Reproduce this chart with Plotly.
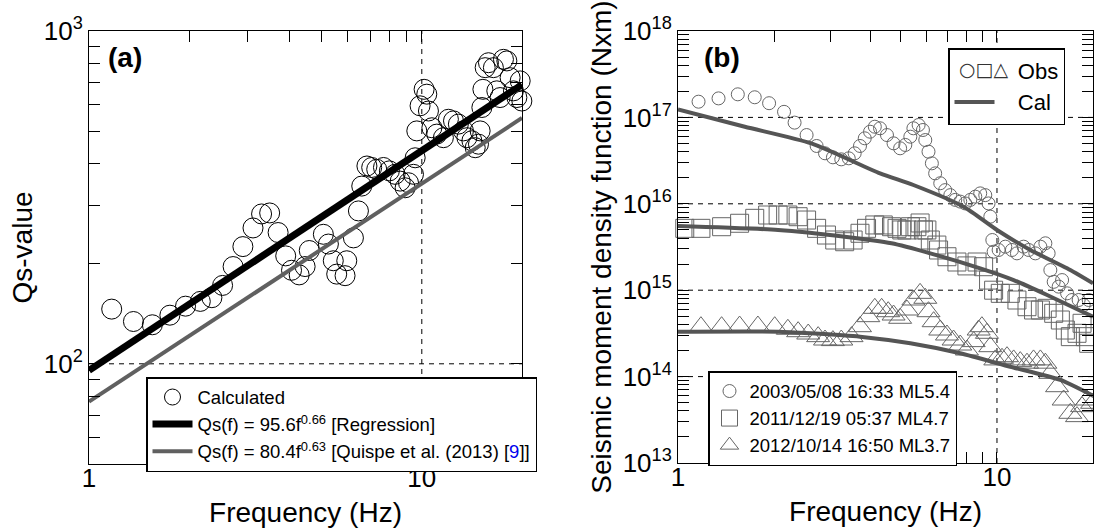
import plotly.graph_objects as go

# ---------------- Panel (a) data ----------------
qs_freq = [1.17, 1.36, 1.55, 1.75, 1.95, 2.16, 2.34, 2.52, 2.71, 2.90, 3.11, 3.30, 3.49, 3.70,
           3.90, 4.06, 4.28, 4.46, 4.59, 5.06, 5.24, 5.42, 5.55, 5.88, 5.95, 6.23, 6.45, 6.60,
           6.84, 7.07, 7.32, 7.67, 7.99, 8.31, 8.61, 8.91, 9.12, 9.44, 9.55, 9.66, 9.88, 10.16,
           10.35, 10.47, 10.72, 11.09, 11.61, 12.02, 12.45, 12.88, 13.34, 13.66, 14.14, 14.47,
           14.80, 14.97, 15.15, 15.26, 15.50, 15.86, 16.41, 16.80, 17.19, 17.59, 18.01, 18.42,
           18.85, 19.30, 19.75, 19.98]
qs_val = [146, 134, 131, 140, 149, 154, 158, 172, 196, 225, 256, 282, 284, 248,
          211, 191, 185, 196, 219, 245, 229, 204, 186, 184, 204, 239, 288, 342,
          393, 389, 384, 389, 380, 371, 354, 338, 350, 371, 416, 501, 596, 668,
          646, 575, 512, 490, 478, 543, 537, 525, 501, 478, 468, 446,
          457, 501, 589, 668, 776, 803, 776, 661, 631, 822, 813, 724,
          661, 631, 708, 616]

reg_freq = [1, 20]
reg_val = [95.6, 690]
quispe_freq = [1, 20]
quispe_val = [77, 548]

# ---------------- Panel (b) data ----------------
c_freq = [1.16, 1.34, 1.54, 1.74, 1.93, 2.15, 2.32, 2.53, 2.72, 2.89, 3.06, 3.25, 3.43, 3.58,
          3.72, 3.85, 4.00, 4.14, 4.30, 4.52, 4.74, 4.97, 5.16, 5.35, 5.47, 5.68, 5.86, 5.96,
          6.10, 6.25, 6.40, 6.64, 6.88, 7.14, 7.40, 7.67, 7.95, 8.25, 8.55, 8.86, 9.19, 9.41,
          9.53, 9.67, 9.76, 10.12, 10.62, 11.14, 11.55, 12.12, 12.57, 13.19, 13.68, 14.18,
          14.52, 14.70, 15.06, 15.61, 16.0, 16.59, 17.19, 18.03, 18.70, 19.39]
c_val = [1.52e17, 1.66e17, 1.85e17, 1.71e17, 1.46e17, 1.16e17, 8.7e16, 6.25e16, 4.67e16, 3.84e16,
         3.45e16, 3.27e16, 3.36e16, 3.84e16, 4.67e16, 5.73e16, 6.83e16, 7.8e16, 7.48e16, 6.25e16,
         5.01e16, 4.39e16, 4.80e16, 5.98e16, 7.48e16, 8.17e16, 7.15e16, 5.47e16, 4.01e16, 2.94e16,
         2.25e16, 1.73e16, 1.44e16, 1.26e16, 1.11e16, 1.06e16, 1.01e16, 1.11e16, 1.21e16, 1.32e16,
         1.26e16, 1.01e16, 7.1e15, 3.81e15, 2.79e15, 2.92e15, 3.19e15, 2.92e15, 2.67e15, 3.19e15,
         2.92e15, 2.67e15, 3.19e15, 3.49e15, 2.67e15, 1.71e15, 1.25e15, 1.10e15, 1.31e15, 9.2e14,
         7.7e14, 7.7e14, 6.74e14, 7.7e14]

s_freq = [1.05, 1.18, 1.37, 1.56, 1.74, 1.91, 2.06, 2.21, 2.38, 2.53, 2.72, 2.92, 3.10, 3.33,
          3.54, 3.72, 3.90, 4.14, 4.40, 4.67, 4.86, 5.03, 5.22, 5.35, 5.61, 5.74, 5.88, 6.03,
          6.18, 6.48, 6.56, 6.97, 7.49, 8.05, 8.66, 9.08, 9.41, 9.76, 10.24, 11.01, 11.55, 12.42,
          13.02, 13.68, 14.36, 15.06, 15.80, 16.38, 16.98, 17.82, 18.48, 18.93, 19.39]
s_val = [5.2e15, 5.2e15, 5.43e15, 5.95e15, 6.79e15, 7.42e15, 7.42e15, 7.42e15, 7.09e15, 6.49e15,
         5.2e15, 4.35e15, 3.81e15, 3.64e15, 3.81e15, 4.56e15, 5.2e15, 5.69e15, 5.69e15, 5.43e15,
         5.2e15, 4.98e15, 4.98e15, 5.43e15, 5.43e15, 6.0e15, 4.98e15, 4.98e15, 3.81e15, 3.33e15,
         2.92e15, 2.44e15, 2.12e15, 1.91e15, 2.12e15, 1.87e15, 1.31e15, 1.0e15, 9.2e14, 9.2e14,
         7.7e14, 6.44e14, 5.9e14, 5.9e14, 6.17e14, 5.4e14, 4.52e14, 3.46e14, 2.9e14, 3.17e14,
         4.14e14, 2.9e14, 2.43e14]

t_freq = [1.18, 1.37, 1.56, 1.78, 2.01, 2.21, 2.38, 2.56, 2.75, 2.89, 3.06, 3.25, 3.50, 3.72,
          3.95, 4.14, 4.35, 4.56, 4.74, 4.97, 5.22, 5.47, 5.74, 5.96, 6.10, 6.33, 6.64, 6.97,
          7.31, 7.67, 8.05, 8.45, 8.76, 8.97, 9.30, 9.53, 9.88, 10.37, 10.75, 11.28, 11.83,
          12.42, 13.02, 13.68, 14.18, 14.70, 15.43, 16.18, 16.98, 17.82, 18.48, 19.16, 19.87]
t_val = [3.78e14, 3.78e14, 3.85e14, 3.85e14, 3.78e14, 3.53e14, 3.31e14, 3.11e14, 2.9e14, 2.65e14,
         2.61e14, 2.65e14, 2.9e14, 3.78e14, 4.94e14, 6.17e14, 6.17e14, 5.64e14, 5.16e14, 4.73e14,
         5.9e14, 7.7e14, 9.2e14, 8.06e14, 5.64e14, 4.32e14, 3.46e14, 3.03e14, 2.65e14, 2.32e14,
         2.03e14, 2.54e14, 3.46e14, 3.78e14, 3.17e14, 2.22e14, 1.56e14, 1.63e14, 1.70e14, 1.56e14,
         1.49e14, 1.43e14, 1.56e14, 1.56e14, 1.43e14, 1.09e14, 7.64e13, 5.36e13, 3.76e13, 3.44e13,
         4.49e13, 5.36e13, 4.91e13]

cal_c_freq = [1.0, 1.62, 2.62, 4.30, 5.47, 7.86, 10.0, 12.72, 16.59, 20.0]
cal_c_val = [1.24e17, 7.8e16, 5.0e16, 2.25e16, 1.65e16, 9.25e15, 4.98e15, 2.92e15, 1.79e15, 1.2e15]
cal_s_freq = [1.0, 2.06, 3.33, 4.67, 6.18, 8.86, 11.28, 14.36, 20.0]
cal_s_val = [5.53e15, 4.98e15, 4.16e15, 3.49e15, 2.67e15, 1.79e15, 1.31e15, 8.8e14, 4.93e14]
cal_t_freq = [1.0, 2.06, 2.6, 3.72, 5.35, 7.67, 11.01, 15.80, 20.0]
cal_t_val = [3.31e14, 3.31e14, 3.17e14, 2.9e14, 2.43e14, 1.86e14, 1.30e14, 9.14e13, 6.0e13]

event_labels = ["2003/05/08 16:33 ML5.4", "2011/12/19 05:37 ML4.7", "2012/10/14 16:50 ML3.7"]

# axis ranges and ticks
f_range = [1, 20]
qa_range = [50, 1000]
mb_range = [1e13, 1e18]
x_major = [1, 10]
x_minor = [2, 3, 4, 5, 6, 7, 8, 9, 20]
ya_major = [100, 1000]
ya_minor = [60, 70, 80, 90, 200, 300, 400, 500, 600, 700, 800, 900]
yb_major = [1e13, 1e14, 1e15, 1e16, 1e17, 1e18]
yb_minor = [m * 10 ** e for e in range(13, 18) for m in range(2, 10)]
x_tickvals = x_major + x_minor
x_ticktext = ["1", "10"] + [""] * len(x_minor)
ya_tickvals = ya_major + ya_minor
ya_ticktext = ["10<sup>2</sup>", "10<sup>3</sup>"] + [""] * len(ya_minor)
yb_tickvals = yb_major + yb_minor
yb_ticktext = ["10<sup>%d</sup>" % e for e in range(13, 19)] + [""] * len(yb_minor)
a_grid_x = [10]
a_grid_y = [100]
b_grid_x = [10]
b_grid_y = [1e14, 1e15, 1e16, 1e17]

FONT = "Liberation Sans, Arial, sans-serif"
GRAY = "#666666"
CAL = "#555555"
NB = "&nbsp;"
GRIDLINE = dict(color="black", width=1, dash="5px,5px")

fig = go.Figure()

# dashed reference grid lines (drawn beneath the data)
for xa, ya, gx, gy, yr in [("x", "y", a_grid_x, a_grid_y, qa_range), ("x2", "y2", b_grid_x, b_grid_y, mb_range)]:
    for v in gx:
        fig.add_trace(go.Scatter(x=[v, v], y=yr, mode="lines", line=GRIDLINE, showlegend=False,
                                 hoverinfo="skip", xaxis=xa, yaxis=ya))
    for v in gy:
        fig.add_trace(go.Scatter(x=f_range, y=[v, v], mode="lines", line=GRIDLINE, showlegend=False,
                                 hoverinfo="skip", xaxis=xa, yaxis=ya))

# Panel (a)
fig.add_trace(go.Scatter(x=qs_freq, y=qs_val, mode="markers", name="Calculated",
                         marker=dict(symbol="circle-open", size=20, color="black",
                                     line=dict(width=1, color="black")),
                         cliponaxis=False, xaxis="x", yaxis="y", legend="legend"))
fig.add_trace(go.Scatter(x=reg_freq, y=reg_val, mode="lines",
                         name="Qs(f) = 95.6f<sup>0.66</sup> [Regression]",
                         line=dict(color="black", width=7), xaxis="x", yaxis="y", legend="legend"))
fig.add_trace(go.Scatter(x=quispe_freq, y=quispe_val, mode="lines",
                         name='Qs(f) = 80.4f<sup>0.63</sup> [Quispe et al. (2013) [<span style="color:#0000ee">9</span>]]',
                         line=dict(color="#606060", width=4), xaxis="x", yaxis="y", legend="legend"))

# Panel (b)
fig.add_trace(go.Scatter(x=[None], y=[None], mode="lines", name=NB * 3 + "Obs",
                         line=dict(color="rgba(0,0,0,0)", width=1),
                         xaxis="x2", yaxis="y2", legend="legend2"))
sym = ["circle-open", "square-open", "triangle-up-open"]
sizes = [13, 18, 20]
for (fx, fy, s, sz, lab) in zip([c_freq, s_freq, t_freq], [c_val, s_val, t_val], sym, sizes, event_labels):
    fig.add_trace(go.Scatter(x=fx, y=fy, mode="markers", name=lab,
                             marker=dict(symbol=s, size=sz, color=GRAY, line=dict(width=1, color=GRAY)),
                             cliponaxis=False, xaxis="x2", yaxis="y2", legend="legend3"))
for i, (fx, fy) in enumerate([(cal_c_freq, cal_c_val), (cal_s_freq, cal_s_val), (cal_t_freq, cal_t_val)]):
    fig.add_trace(go.Scatter(x=fx, y=fy, mode="lines", name=NB * 3 + "Cal", showlegend=(i == 0),
                             line=dict(color=CAL, width=4, shape="spline", smoothing=0.6),
                             xaxis="x2", yaxis="y2", legend="legend2"))

W, H = 1094, 529
def px_x(v):
    return v / W
def px_y(v):
    return 1 - v / H

XR = [0, 1.30103]
TICK = dict(ticks="inside", ticklen=11, tickcolor="black")
LINE = dict(showline=True, linecolor="black", mirror="ticks", zeroline=False, showgrid=False,
            automargin=False)
TF = dict(size=26, color="black", family=FONT)
TT = dict(size=28, color="black", family=FONT)

def main_x(domain, anchor):
    return dict(type="log", range=XR, domain=domain, anchor=anchor, tickmode="array",
                tickvals=x_tickvals, ticktext=x_ticktext, tickfont=TF, ticklabelstandoff=-9,
                title=dict(text="Frequency (Hz)", font=TT, standoff=10), **TICK, **LINE)

fig.update_layout(
    width=W, height=H, margin=dict(l=0, r=0, t=0, b=0),
    paper_bgcolor="white", plot_bgcolor="white",
    font=dict(family=FONT, color="black"),
    xaxis=main_x([px_x(89), px_x(522)], "y"),
    yaxis=dict(type="log", domain=[px_y(464), px_y(31)], anchor="x", range=[1.69897, 3],
               tickmode="array", tickvals=ya_tickvals, ticktext=ya_ticktext, tickfont=TF,
               title=dict(text="Qs-value", font=TT, standoff=2), **TICK, **LINE),
    xaxis2=main_x([px_x(678), px_x(1093)], "y2"),
    yaxis2=dict(type="log", domain=[px_y(463), px_y(31)], anchor="x2", range=[13, 18],
                tickmode="array", tickvals=yb_tickvals, ticktext=yb_ticktext, tickfont=TF,
                title=dict(text="Seismic moment density function (Nxm)", font=TT, standoff=2),
                **TICK, **LINE),
    legend=dict(x=px_x(146), y=px_y(377), xanchor="left", yanchor="top",
                bgcolor="white", bordercolor="black", borderwidth=1.5,
                font=dict(size=18.5, color="black", family=FONT), traceorder="normal",
                tracegroupgap=0, itemwidth=40),
    legend2=dict(x=px_x(948), y=px_y(48), xanchor="left", yanchor="top",
                 bgcolor="white", bordercolor="black", borderwidth=1.5,
                 font=dict(size=22, color="black", family=FONT), traceorder="normal",
                 itemwidth=40),
    legend3=dict(x=px_x(708), y=px_y(371), xanchor="left", yanchor="top",
                 bgcolor="white", bordercolor="black", borderwidth=1.5,
                 font=dict(size=18.5, color="black", family=FONT), traceorder="normal",
                 itemwidth=30),
    annotations=[
        dict(text="<b>(a)</b>", x=px_x(106), y=px_y(57), xref="paper", yref="paper",
             xanchor="left", yanchor="middle", showarrow=False,
             font=dict(size=28, color="black", family=FONT)),
        dict(text="<b>(b)</b>", x=px_x(702), y=px_y(57), xref="paper", yref="paper",
             xanchor="left", yanchor="middle", showarrow=False,
             font=dict(size=28, color="black", family=FONT)),
        dict(text="○□△", x=px_x(984), y=px_y(69), xref="paper", yref="paper",
             xanchor="center", yanchor="middle", showarrow=False,
             font=dict(size=19, color="#333333", family="DejaVu Sans")),
    ],
)

fig.write_html("out.html")
